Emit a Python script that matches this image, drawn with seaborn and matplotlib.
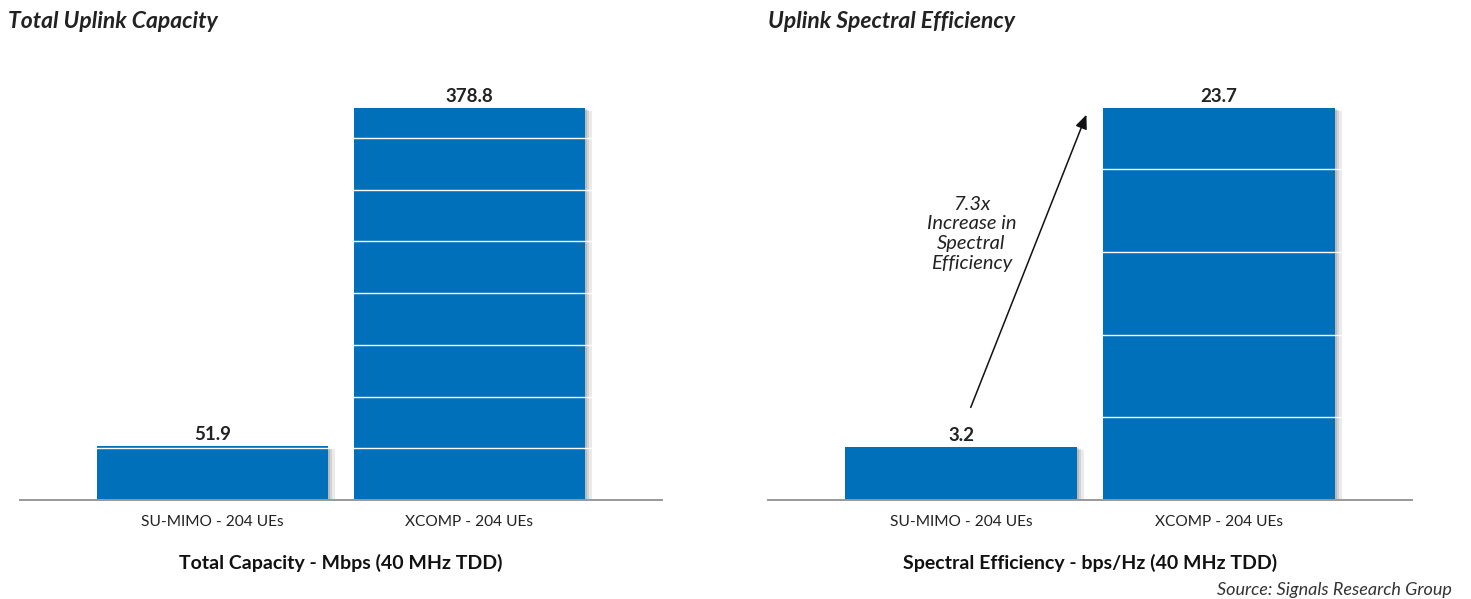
import matplotlib
matplotlib.use("Agg")
import matplotlib.pyplot as plt
import matplotlib.patheffects as pe
import seaborn as sns
import pandas as pd

categories = ["SU-MIMO - 204 UEs", "XCOMP - 204 UEs"]
capacity = [51.9, 378.8]
efficiency = [3.2, 23.7]
value_labels_cap = ["51.9", "378.8"]
value_labels_eff = ["3.2", "23.7"]

BAR_COLOR = "#0070BA"

sns.set_theme(style="white")
plt.rcParams["font.family"] = ["Lato", "DejaVu Sans"]

fig = plt.figure(figsize=(14.71, 5.99), dpi=100)
W, H = 1471, 599


def add_axes(left_px, right_px, top_px, bottom_px):
    return fig.add_axes([left_px / W, 1 - bottom_px / H,
                         (right_px - left_px) / W, (bottom_px - top_px) / H])


def plot_panel(ax, values, labels, ymax, step, xlabel):
    df = pd.DataFrame({"cat": categories, "val": values})
    sns.barplot(data=df, x="cat", y="val", color=BAR_COLOR, saturation=1,
                width=0.9, ax=ax, zorder=2)
    for patch in ax.patches:
        patch.set_path_effects([
            pe.SimplePatchShadow(offset=(5, -2), shadow_rgbFace="#777777", alpha=0.15),
            pe.SimplePatchShadow(offset=(3, -1.5), shadow_rgbFace="#777777", alpha=0.2),
            pe.SimplePatchShadow(offset=(1.5, -1), shadow_rgbFace="#777777", alpha=0.25),
            pe.Normal(),
        ])
        patch.set_linewidth(0)
    ax.set_xlim(-0.75, 1.75)
    ax.set_ylim(0, ymax)
    ticks = [t for t in range(step, int(max(values)) + 1, step)]
    ax.set_yticks(ticks)
    ax.set_axisbelow(False)
    ax.yaxis.grid(True, color="white", linewidth=1.0, zorder=3)
    ax.tick_params(axis="y", left=False, labelleft=False)
    ax.tick_params(axis="x", bottom=False, pad=5, labelsize=11.2, labelcolor="#222222")
    for s in ["top", "left", "right"]:
        ax.spines[s].set_visible(False)
    ax.spines["bottom"].set_color("#999999")
    ax.spines["bottom"].set_linewidth(1.4)
    ax.set_ylabel("")
    ax.set_xlabel(xlabel, fontsize=14, fontweight="bold", color="#111111", labelpad=18)
    for i, (v, lab) in enumerate(zip(values, labels)):
        ax.annotate(lab, (i, v), xytext=(0, 2.5), textcoords="offset points",
                    ha="center", va="bottom", fontsize=13.5, fontweight="bold",
                    color="#222222")
    ax.set_facecolor("none")


ax1 = add_axes(20, 662, 60, 500)
plot_panel(ax1, capacity, value_labels_cap, 440 / (392 / 378.8), 50,
           "Total Capacity - Mbps (40 MHz TDD)")

ax2 = add_axes(768, 1412, 60, 500)
plot_panel(ax2, efficiency, value_labels_eff, 440 / (392 / 23.7), 5,
           "Spectral Efficiency - bps/Hz (40 MHz TDD)")

fig.text(8 / W, 1 - 22 / H, "Total Uplink Capacity", fontsize=16.5, fontweight="bold",
         fontstyle="italic", color="#222222", va="center", ha="left")
fig.text(768 / W, 1 - 22 / H, "Uplink Spectral Efficiency", fontsize=16.5, fontweight="bold",
         fontstyle="italic", color="#222222", va="center", ha="left")

ax2.annotate("", xy=(0.49, 23.45), xytext=(0.033, 5.44),
             arrowprops=dict(arrowstyle="-|>,head_length=0.7,head_width=0.3",
                             color="#111111", lw=1.1))
ax2.text(0.04, 16.1, "7.3x\nIncrease in\nSpectral\nEfficiency", ha="center", va="center",
         fontsize=14.5, fontstyle="italic", color="#222222", linespacing=1.2)

fig.text(1452 / W, 1 - 590 / H, "Source: Signals Research Group", fontsize=13,
         fontstyle="italic", color="#333333", ha="right", va="center")

fig.savefig("out.png", dpi=100)
